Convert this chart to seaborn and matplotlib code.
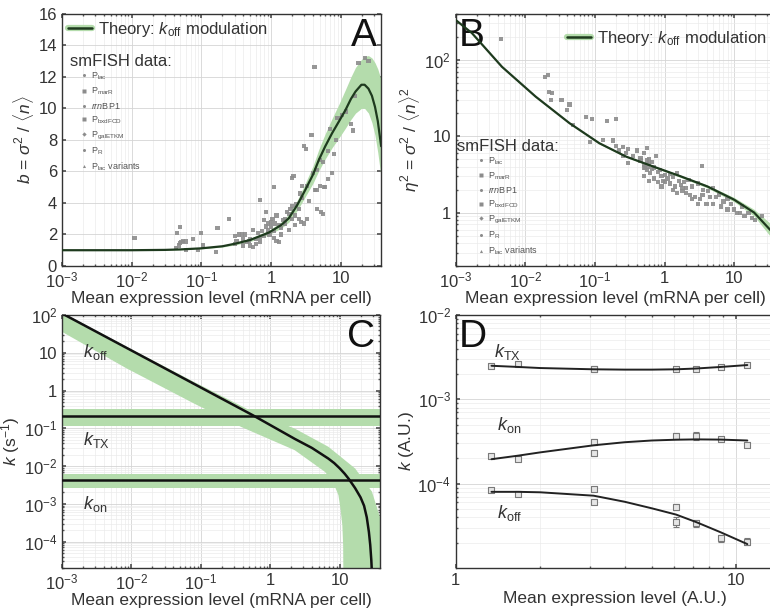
import matplotlib
matplotlib.use("Agg")
import matplotlib.pyplot as plt
import matplotlib.patheffects as pe
from matplotlib.lines import Line2D
import pandas as pd
import seaborn as sns

# ---------------- data ----------------
# panel A: b = sigma^2/<n> vs mean (smFISH)
a_mean = [0.011, 0.043, 0.045, 0.05, 0.052, 0.055, 0.048, 0.06, 0.075, 0.09, 0.1, 0.105,
          0.16, 0.17, 0.25, 0.3, 0.32, 0.35, 0.38, 0.4, 0.42, 0.45, 0.48, 0.5, 0.55, 0.55,
          0.6, 0.65, 0.7, 0.7, 0.75, 0.8, 0.85, 0.85, 0.9, 0.9, 0.95, 1.0, 1.0, 1.05, 1.1,
          1.1, 1.15, 1.2, 1.2, 1.3, 1.3, 1.4, 1.5, 1.6, 1.7, 1.8, 1.9, 2.0, 2.1, 2.0, 2.2,
          2.3, 2.5, 2.6, 2.7, 2.8, 3.0, 3.2, 3.0, 3.3, 3.5, 3.8, 4.0, 4.2, 4.3, 4.5, 4.6,
          5.0, 5.1, 5.2, 5.5, 5.8, 6.0, 6.5, 7.0, 7.5, 8.0, 8.5, 9.0, 10.5, 12.0, 14.0,
          15.0, 16.0, 18.0, 22.0, 25.0, 0.6, 0.7, 0.8, 0.9, 1.1, 1.4, 1.6, 2.2, 2.5, 3.3,
          4.5, 5.5, 6.5, 0.3, 0.4, 0.5, 1.8, 2.0, 2.8, 0.05, 0.06]
a_fano = [1.8, 1.15, 2.1, 2.45, 1.5, 1.6, 1.3, 1.0, 1.7, 1.0, 2.1, 1.3,
          0.9, 2.4, 3.0, 1.9, 1.6, 2.0, 2.0, 1.7, 2.0, 1.5, 1.6, 1.3, 1.2, 2.3,
          1.7, 2.1, 4.2, 1.8, 2.2, 2.9, 3.4, 2.5, 2.7, 2.3, 2.0, 2.8, 2.5, 3.0, 2.2,
          5.0, 2.7, 1.6, 3.2, 1.5, 2.6, 2.4, 2.9, 2.7, 3.4, 3.3, 3.6, 5.6, 5.7, 3.0, 2.6,
          3.9, 3.0, 4.6, 2.8, 5.1, 7.6, 7.4, 2.7, 5.1, 4.1, 8.3, 5.9, 12.6, 4.8, 6.1, 3.6,
          5.1, 6.7, 3.4, 3.3, 5.0, 5.0, 7.3, 8.7, 5.9, 7.1, 8.0, 9.4, 9.6, 9.8, 9.0,
          8.6, 10.8, 12.9, 13.2, 13.0, 1.4, 1.5, 1.9, 2.1, 1.8, 2.0, 3.0, 3.2, 3.6, 3.0,
          4.8, 6.6, 5.5, 1.4, 1.3, 1.7, 2.3, 3.8, 4.3, 1.45, 1.55]
a_theory_x = [0.001, 0.003, 0.01, 0.03, 0.05, 0.1, 0.2, 0.31, 0.5, 0.93, 1.4, 1.8, 2.4,
              3.1, 4.0, 4.85, 6.0, 7.5, 9.5, 11.7, 14.0, 16.3, 19.8, 22.0, 25.0, 28.0,
              31.0, 34.0, 38.0]
a_theory = [1.0, 1.0, 1.0, 1.02, 1.05, 1.12, 1.25, 1.42, 1.65, 2.12, 2.6, 3.03, 3.9,
            4.83, 5.8, 6.73, 7.6, 8.42, 9.2, 9.9, 10.6, 11.07, 11.5, 11.5, 11.25, 10.8,
            10.1, 9.2, 7.6]
a_upper = [1.0, 1.0, 1.0, 1.03, 1.07, 1.15, 1.3, 1.5, 1.75, 2.25, 2.8, 3.3, 4.2,
           5.25, 6.35, 7.4, 8.4, 9.35, 10.3, 11.2, 12.0, 12.6, 13.1, 13.3, 13.35, 13.2,
           12.9, 12.5, 11.8]
a_lower = [1.0, 1.0, 1.0, 1.01, 1.03, 1.09, 1.2, 1.34, 1.55, 1.98, 2.4, 2.78, 3.55,
           4.4, 5.25, 6.05, 6.8, 7.5, 8.15, 8.75, 9.3, 9.7, 10.0, 10.0, 9.7, 9.1,
           8.3, 7.2, 5.6]

# panel B: eta^2 = sigma^2/<n>^2 vs mean
b_mean = [0.0045, 0.019, 0.021, 0.022, 0.024, 0.023, 0.033, 0.04, 0.043, 0.048, 0.075,
          0.085, 0.09, 0.15, 0.2, 0.18, 0.2, 0.22, 0.25, 0.28, 0.3, 0.35, 0.4, 0.45, 0.5,
          0.55, 0.55, 0.6, 0.6, 0.65, 0.7, 0.75, 0.8, 0.85, 0.9, 0.95, 1.0, 1.1, 1.2, 1.3,
          1.4, 1.5, 1.6, 1.8, 1.9, 2.0, 2.2, 2.5, 2.7, 3.0, 3.2, 3.4, 3.6, 4.0, 4.2, 5.0,
          5.5, 6.0, 7.0, 8.0, 9.0, 10.0, 12.0, 14.0, 16.0, 20.0, 0.55, 0.5, 0.65,
          0.45, 0.5, 0.52, 0.58, 0.62, 0.5, 0.7, 0.8, 0.9, 1.0, 1.2, 1.3, 1.5, 1.7, 2.0,
          2.3, 2.5, 3.0, 4.5, 5.0, 6.5, 8.0, 11.0, 13.0, 18.0, 25.0, 0.3, 0.25, 0.13,
          0.6, 1.8, 3.5]
b_eta2 = [185, 60, 64, 38, 37, 30, 30, 22, 26, 14, 18,
          8.5, 17, 16, 17, 8.8, 7.5, 6.5, 7.2, 6.0, 6.8, 5.5, 6.5, 5.2, 6.0,
          4.8, 3.6, 5.0, 4.4, 4.6, 3.9, 5.5, 3.4, 3.6, 3.0, 2.6, 3.1, 2.8, 2.4, 2.9,
          2.2, 3.3, 2.6, 2.1, 2.5, 1.8, 2.7, 2.2, 1.6, 2.4, 1.5, 4.1, 2.0, 1.3, 1.9, 2.1,
          1.6, 1.7, 1.4, 1.5, 1.3, 1.1, 1.0, 0.9, 1.0, 0.8, 7.0, 3.9, 3.7,
          4.8, 4.2, 3.8, 4.0, 3.3, 3.0, 2.8, 2.5, 2.2, 2.5, 3.2, 2.0, 1.8, 2.3, 2.1,
          1.7, 1.5, 1.3, 1.6, 1.3, 1.2, 1.1, 1.0, 1.2, 0.85, 0.9, 4.5, 5.5, 9.0,
          2.6, 1.9, 1.7]
b_theory_x = [0.001, 0.0017, 0.0046, 0.014, 0.043, 0.115, 0.28, 0.69, 1.67, 4.1, 9.9,
              19.3, 35.5]
b_theory = [331, 224, 81, 33, 14.8, 8.1, 5.4, 4.0, 3.0, 2.2, 1.48, 1.0, 0.55]
b_upper = [338, 228, 83, 33.7, 15.1, 8.3, 5.5, 4.1, 3.1, 2.3, 1.58, 1.1, 0.68]
b_lower = [324, 220, 79, 32.3, 14.5, 7.9, 5.3, 3.9, 2.9, 2.1, 1.39, 0.9, 0.45]

legend_labels = [r"P$_{\mathrm{lac}}$", r"P$_{\mathrm{marR}}$", r"$rrn$BP1",
                 r"P$_{\mathrm{bxdFCD}}$", r"P$_{\mathrm{galETKM}}$", r"P$_{\mathrm{R}}$",
                 r"P$_{\mathrm{lac}}$ variants"]
legend_markers = ["o", "s", "o", "s", "D", "o", "^"]

# panel C: inferred rates vs mean (s^-1)
koff_x = [0.001, 0.01, 0.1, 0.562, 2.25, 3.98, 6.85, 8.32, 10.0, 11.75, 13.37, 16.6,
          19.95, 22.4, 24.5, 26.3, 27.5, 28.5, 29.2]
koff_v = [110, 11.5, 1.2, 0.221, 0.0525, 0.0302, 0.0158, 0.012, 0.0087, 0.0063,
          0.00468, 0.00263, 0.00148, 8.9e-4, 4.4e-4, 1.8e-4, 8.1e-5, 3.2e-5, 1.26e-5]
koff_band_up_x = [0.0009, 0.00865, 0.080, 0.561, 2.25, 6.86, 16.7, 29.1, 38.5, 40.0, 40.0]
koff_band_up_v = [130, 14.2, 1.69, 0.272, 0.0984, 0.0324, 0.0086, 0.0021, 4.1e-4, 8e-5, 1e-5]
koff_band_lo_x = [0.0009, 0.00865, 0.080, 0.38, 2.25, 6.12, 8.0, 9.57, 10.3, 10.9,
                  11.2, 11.3]
koff_band_lo_v = [40, 3.8, 0.451, 0.109, 0.0263, 0.00703, 0.0038, 0.0017, 7e-4,
                  2.7e-4, 8e-5, 1e-5]
ktx_v, ktx_band = 0.213, (0.118, 0.32)
kon_v, kon_band = 0.0043, (0.0026, 0.0063)

# panel D: rates vs mean (A.U.), points with error bars and smooth fits
d_x = [1.34, 1.67, 3.1, 3.1, 6.1, 7.2, 8.8, 10.95]
d_ktx = [2.47e-3, 2.63e-3, 2.32e-3, 2.3e-3, 2.26e-3, 2.32e-3, 2.4e-3, 2.58e-3]
d_ktx_err = [0.5e-4, 0.8e-4, 0.5e-4, 0.5e-4, 0.8e-4, 0.6e-4, 0.5e-4, 0.6e-4]
d_kon_x = [1.34, 1.67, 3.1, 3.1, 6.1, 7.2, 8.8, 10.95]
d_kon = [2.15e-4, 1.97e-4, 3.15e-4, 2.32e-4, 3.64e-4, 3.7e-4, 3.39e-4, 2.9e-4]
d_kon_err = [0.1e-4, 0.1e-4, 0.25e-4, 0.2e-4, 0.3e-4, 0.45e-4, 0.15e-4, 0.2e-4]
d_koff_x = [1.34, 1.67, 3.1, 3.1, 6.1, 6.1, 7.2, 8.8, 10.95]
d_koff = [8.35e-5, 7.6e-5, 8.6e-5, 6.1e-5, 5.3e-5, 3.55e-5, 3.4e-5, 2.25e-5, 2.06e-5]
d_koff_err = [0.3e-5, 0.3e-5, 0.5e-5, 0.4e-5, 0.4e-5, 0.45e-5, 0.3e-5, 0.2e-5, 0.2e-5]
fit_x = [1.34, 1.67, 2.0, 3.1, 4.0, 5.0, 6.1, 7.2, 8.8, 10.95]
fit_ktx = [2.5e-3, 2.42e-3, 2.35e-3, 2.27e-3, 2.25e-3, 2.25e-3, 2.27e-3, 2.32e-3, 2.42e-3, 2.55e-3]
fit_kon = [1.95e-4, 2.15e-4, 2.35e-4, 2.85e-4, 3.1e-4, 3.25e-4, 3.32e-4, 3.35e-4, 3.33e-4, 3.25e-4]
fit_koff = [8e-5, 8e-5, 7.9e-5, 7.2e-5, 6.1e-5, 5.1e-5, 4.3e-5, 3.5e-5, 2.65e-5, 1.92e-5]

# ---------------- style ----------------
sns.set_theme(style="ticks")
plt.rcParams["font.family"] = ["Liberation Sans", "DejaVu Sans"]
plt.rcParams["mathtext.fontset"] = "custom"
plt.rcParams["mathtext.rm"] = "Liberation Sans"
plt.rcParams["mathtext.it"] = "Liberation Sans:italic"
plt.rcParams["mathtext.bf"] = "Liberation Sans:bold"

TXT = "#333333"
BAND = "#b4dcac"
DARK = "#1e3a1e"
GRAY = "#8c8c8c"
dec_ticks = [1e-3, 1e-2, 1e-1, 1, 10]
dec_labels = [r"$10^{-3}$", r"$10^{-2}$", r"$10^{-1}$", "1", "10"]
xlab = "Mean expression level (mRNA per cell)"

fig = plt.figure(figsize=(7.7, 6.12), dpi=100)
axA = fig.add_axes([0.0805, 0.5654, 0.4145, 0.412])
axB = fig.add_axes([0.592, 0.5654, 0.414, 0.412])
axC = fig.add_axes([0.0805, 0.0719, 0.413, 0.4134])
axD = fig.add_axes([0.592, 0.0719, 0.414, 0.4134])


def style_ax(ax, logy=True):
    ax.set_xscale("log")
    if logy:
        ax.set_yscale("log")
    ax.grid(True, which="major", color="#d4d4d4", lw=0.6)
    ax.grid(True, which="minor", color="#ebebeb", lw=0.5)
    ax.set_axisbelow(True)
    for s in ax.spines.values():
        s.set_color("#333333")
        s.set_linewidth(1.0)
    ax.tick_params(which="both", direction="in", top=True, right=True,
                   colors="#555555", labelcolor=TXT, labelsize=12)
    ax.tick_params(which="major", length=3)
    ax.tick_params(which="minor", length=1.5)


# ---------------- A ----------------
style_ax(axA, logy=False)
axA.fill_between(a_theory_x, a_lower, a_upper, color=BAND, lw=0)
sns.scatterplot(x=a_mean, y=a_fano, ax=axA, color=GRAY, s=9, marker="s",
                edgecolor="none", alpha=0.9, zorder=3)
sns.lineplot(x=a_theory_x, y=a_theory, ax=axA, color=DARK, lw=1.6, sort=False,
             estimator=None, zorder=4)
axA.set_xlim(1e-3, 38)
axA.set_ylim(0, 16)
axA.set_yticks(range(0, 17, 2))
axA.set_xticks(dec_ticks, dec_labels)
axA.set_xlabel(xlab, fontsize=12.5, color=TXT, labelpad=0)
axA.set_ylabel(r"$b$ = $\sigma^2$ / $\langle n\rangle$", fontsize=12.5, color=TXT, labelpad=2)
axA.text(0.985, 0.985, "A", transform=axA.transAxes, ha="right", va="top", fontsize=28, color="#111")

# ---------------- B ----------------
style_ax(axB)
axB.fill_between(b_theory_x, b_lower, b_upper, color=BAND, lw=0)
sns.scatterplot(x=b_mean, y=b_eta2, ax=axB, color=GRAY, s=9, marker="s",
                edgecolor="none", alpha=0.9, zorder=3)
sns.lineplot(x=b_theory_x, y=b_theory, ax=axB, color=DARK, lw=1.6, sort=False,
             estimator=None, zorder=4)
axB.set_xlim(1e-3, 38)
axB.set_ylim(0.2, 400)
axB.set_xticks(dec_ticks, dec_labels)
axB.set_yticks([1, 10, 100], ["1", "10", r"$10^{2}$"])
axB.set_xlabel(xlab, fontsize=12.5, color=TXT, labelpad=0)
axB.set_ylabel(r"$\eta^2$ = $\sigma^2$ / $\langle n\rangle^2$", fontsize=12.5, color=TXT, labelpad=2)
axB.text(0.01, 0.985, "B", transform=axB.transAxes, ha="left", va="top", fontsize=28, color="#111")

# legends for A and B
theory_handle = Line2D([], [], color=DARK, lw=1.8,
                       path_effects=[pe.Stroke(linewidth=4.5, foreground=BAND), pe.Normal()])
data_handles = [Line2D([], [], ls="", marker=m, ms=2.2, color=GRAY, mec="none")
                for m in legend_markers]

# (theory legend anchor, smFISH title position, entries anchor) in axes fractions
legend_spots = [
    (axA, (0.02, 0.975), (0.025, 0.81), (0.06, 0.775)),
    (axB, (0.35, 0.94), (0.005, 0.475), (0.07, 0.44)),
]
for ax, th_xy, title_xy, ent_xy in legend_spots:
    leg1 = ax.legend([theory_handle], [r"Theory: $k_{\mathrm{off}}$ modulation"],
                     frameon=False, fontsize=12, handlelength=1.4, handletextpad=0.4,
                     borderaxespad=0, borderpad=0, loc="upper left", bbox_to_anchor=th_xy)
    for t in leg1.get_texts():
        t.set_color(TXT)
    ax.add_artist(leg1)
    ax.text(*title_xy, "smFISH data:", transform=ax.transAxes, fontsize=12,
            color=TXT, va="center", ha="left")
    leg2 = ax.legend(data_handles, legend_labels, frameon=False, fontsize=6.5,
                     handlelength=0.6, handletextpad=0.5, labelspacing=0.4,
                     borderaxespad=0, borderpad=0, loc="upper left", bbox_to_anchor=ent_xy)
    for t in leg2.get_texts():
        t.set_color("#555555")

# ---------------- C ----------------
style_ax(axC)
axC.fill(koff_band_up_x + koff_band_lo_x[::-1], koff_band_up_v + koff_band_lo_v[::-1],
         color=BAND, lw=0, zorder=1)
axC.axhspan(*ktx_band, color=BAND, lw=0, zorder=1)
axC.axhspan(*kon_band, color=BAND, lw=0, zorder=1)
sns.lineplot(x=koff_x, y=koff_v, ax=axC, color="#111111", lw=1.8, sort=False,
             estimator=None, zorder=4)
axC.axhline(ktx_v, color="#111111", lw=1.8, zorder=4)
axC.axhline(kon_v, color="#111111", lw=1.8, zorder=4)
axC.set_xlim(1e-3, 38)
axC.set_ylim(2e-5, 100)
axC.set_xticks(dec_ticks, dec_labels)
axC.set_yticks([1e-4, 1e-3, 1e-2, 1e-1, 1, 10, 100],
               [r"$10^{-4}$", r"$10^{-3}$", r"$10^{-2}$", r"$10^{-1}$", "1", "10", r"$10^{2}$"])
axC.set_xlabel(xlab, fontsize=12.5, color=TXT, labelpad=0)
axC.set_ylabel(r"$k$ (s$^{-1}$)", fontsize=12.5, color=TXT, labelpad=1)
axC.text(0.985, 0.985, "C", transform=axC.transAxes, ha="right", va="top", fontsize=28, color="#111")
axC.text(0.002, 10.5, r"$k_{\mathrm{off}}$", fontsize=13, color=TXT, va="center")
axC.text(0.002, 0.049, r"$k_{\mathrm{TX}}$", fontsize=13, color=TXT, va="center")
axC.text(0.002, 0.001, r"$k_{\mathrm{on}}$", fontsize=13, color=TXT, va="center")

# ---------------- D ----------------
style_ax(axD)
for xs, ys, es, fy in [(d_x, d_ktx, d_ktx_err, fit_ktx),
                       (d_kon_x, d_kon, d_kon_err, fit_kon),
                       (d_koff_x, d_koff, d_koff_err, fit_koff)]:
    axD.errorbar(xs, ys, yerr=es, fmt="none", ecolor="#777777", elinewidth=0.8,
                 capsize=2, capthick=0.8, zorder=3)
    sns.scatterplot(x=xs, y=ys, ax=axD, marker="s", s=16, color="#e6e6e6",
                    edgecolor="#7a7a7a", linewidth=0.8, zorder=4)
    sns.lineplot(x=fit_x, y=fy, ax=axD, color="#222222", lw=1.4, sort=False,
                 estimator=None, zorder=5)
axD.set_xlim(1, 13.7)
axD.set_ylim(1e-5, 1e-2)
axD.set_xticks([1, 10], ["1", "10"])
axD.set_yticks([1e-4, 1e-3, 1e-2], [r"$10^{-4}$", r"$10^{-3}$", r"$10^{-2}$"])
axD.set_xlabel("Mean expression level (A.U.)", fontsize=12.5, color=TXT, labelpad=2)
axD.set_ylabel(r"$k$ (A.U.)", fontsize=12.5, color=TXT, labelpad=1)
axD.text(0.01, 0.985, "D", transform=axD.transAxes, ha="left", va="top", fontsize=28, color="#111")
axD.text(1.37, 3.6e-3, r"$k_{\mathrm{TX}}$", fontsize=13, color=TXT, va="center")
axD.text(1.4, 5.0e-4, r"$k_{\mathrm{on}}$", fontsize=13, color=TXT, va="center")
axD.text(1.4, 4.5e-5, r"$k_{\mathrm{off}}$", fontsize=13, color=TXT, va="center")

fig.savefig("out.png", dpi=100)
